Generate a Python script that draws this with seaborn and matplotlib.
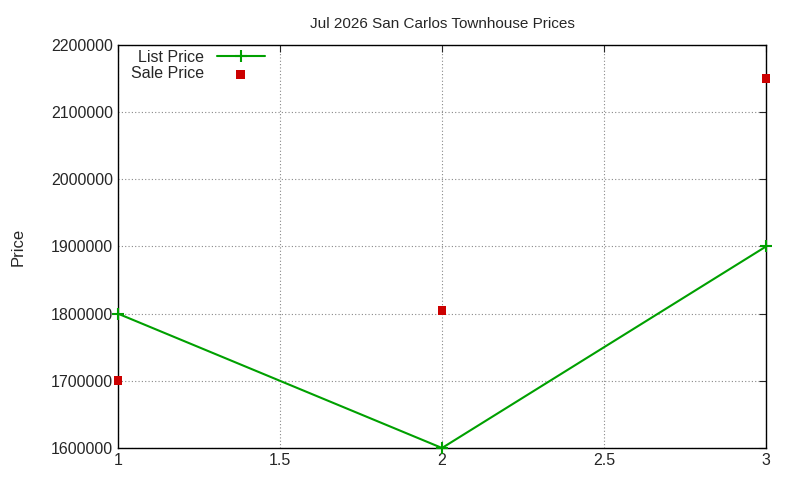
import matplotlib
matplotlib.use("Agg")
import matplotlib.pyplot as plt
import seaborn as sns
import pandas as pd

x = [1, 2, 3]
list_price = [1800000, 1600000, 1900000]
sale_price = [1700000, 1805000, 2150000]
title = "Jul 2026 San Carlos Townhouse Prices"

sns.set_style("white")
plt.rcParams['font.family'] = ['Liberation Sans', 'DejaVu Sans']
fig = plt.figure(figsize=(8, 4.8), dpi=100)
ax = fig.add_axes([118/800, 1-448/480, (766-118)/800, (448-45)/480])
df = pd.DataFrame({"x": x, "list": list_price, "sale": sale_price})
ax.plot(df["x"], df["list"], color="#00a000", marker="+", markersize=9,
        markeredgewidth=1.5, markeredgecolor="#00a000", linewidth=1.5,
        label="List Price", clip_on=False, zorder=4)
sns.scatterplot(data=df, x="x", y="sale", ax=ax, color="#cc0000", marker="s", s=40,
                edgecolor="none", label="Sale Price", zorder=5, clip_on=False)
ax.set_xlim(1, 3)
ax.set_ylim(1600000, 2200000)
ax.set_xticks([1, 1.5, 2, 2.5, 3])
ax.set_xticklabels(["1", "1.5", "2", "2.5", "3"])
ax.set_yticks(range(1600000, 2200001, 100000))
ax.set_yticklabels([str(v) for v in range(1600000, 2200001, 100000)])
ax.grid(True, linestyle=(0, (1, 2)), color="#888888", linewidth=0.8)
ax.tick_params(direction="in", top=True, right=True, labelsize=11.5, length=5)
for s in ax.spines.values():
    s.set_color("black"); s.set_linewidth(1)
ax.set_xlabel("")
ax.set_ylabel("Price", fontsize=12, labelpad=18)
ax.set_title(title, fontsize=11, pad=12)
leg = ax.legend(loc="upper left", bbox_to_anchor=(0.0, 1.02), markerfirst=False, frameon=False,
                fontsize=11.5, handlelength=3, labelspacing=0.1, borderpad=0.3)
for t in leg.get_texts():
    t.set_ha("right")
fig.savefig("out.png", dpi=100)
